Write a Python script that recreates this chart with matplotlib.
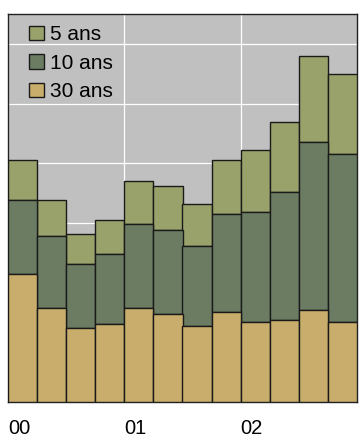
import numpy as np
import matplotlib.pyplot as plt

plt.rcParams['font.family'] = ['Liberation Sans', 'DejaVu Sans']

years = ['00', '01', '02']
ans30 = [2.14, 1.57, 1.24, 1.31, 1.57, 1.48, 1.27, 1.51, 1.34, 1.37, 1.54, 1.34]
ans10 = [1.24, 1.21, 1.07, 1.17, 1.41, 1.40, 1.34, 1.64, 1.84, 2.15, 2.82, 2.81]
ans5 = [0.67, 0.60, 0.50, 0.57, 0.73, 0.74, 0.71, 0.90, 1.04, 1.17, 1.44, 1.34]

fig = plt.figure(figsize=(3.59, 4.40), dpi=100)
ax = fig.add_axes([8 / 359, 38 / 440, 349 / 359, 388 / 440])
ax.set_facecolor('#c0c0c0')

x = np.arange(len(ans30))
b30 = np.array(ans30)
b10 = b30 + np.array(ans10)

kw = dict(width=1.0, edgecolor='#1a1a1a', linewidth=1.0, zorder=3)
ax.bar(x, ans5, bottom=b10, color='#9aa26c', label='5 ans', **kw)
ax.bar(x, ans10, bottom=b30, color='#6b7c63', label='10 ans', **kw)
ax.bar(x, ans30, color='#c8ad6d', label='30 ans', **kw)

ax.set_xlim(-0.5, len(ans30) - 0.5)
ax.set_ylim(0, 6.5)
ax.set_yticks(np.arange(0, 7, 1))
ax.set_yticklabels([])
ax.set_xticks(np.arange(len(years)) * 4 - 0.5)
ax.set_xticklabels(years, ha='left', fontsize=14.5)
ax.tick_params(length=0, pad=12)
ax.grid(True, color='white', linewidth=0.9, zorder=1)
ax.set_axisbelow(True)
for s in ax.spines.values():
    s.set_color('#222222')
    s.set_linewidth(1.0)

ax.legend(loc='upper left', frameon=False, fontsize=15,
          handlelength=0.7, handleheight=0.7, handletextpad=0.3,
          labelspacing=0.45, borderaxespad=0.2,
          bbox_to_anchor=(0.025, 1.003))

fig.savefig('out.png', dpi=100)
